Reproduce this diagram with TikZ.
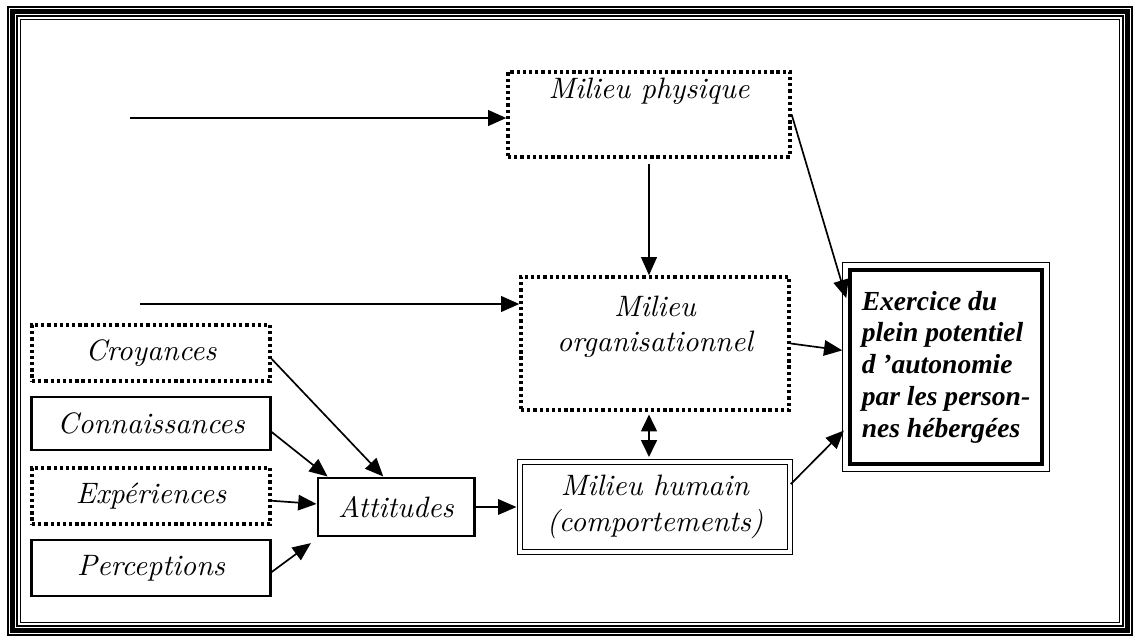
\documentclass[tikz,border=0pt]{standalone}
\usepackage{fontspec}
\usepackage{tikz}
\usetikzlibrary{positioning,arrows.meta,calc}
\newfontfamily\grasit{Liberation Serif}

\tikzset{
  texte/.style={font=\fontsize{10.5}{12.5}\selectfont\itshape, align=center, inner sep=0pt},
  pointille/.style={draw, line width=1.15pt, dash pattern=on 1.15pt off 1.05pt, inner sep=0pt},
  trait/.style={draw, line width=1.05pt, texte},
  fleche/.style={-{Triangle[length=6.5pt,width=5.5pt]}, line width=0.6pt},
}

\begin{document}
\begin{tikzpicture}[x=0.0125cm,y=-0.0125cm]
    \useasboundingbox (0,0) rectangle (1136,638);
    % cadre
    \draw[line width=0.5pt] (8,7) rectangle (1132,635);
    \draw[line width=1.6pt] (12.5,11.5) rectangle (1127.5,630.5);
    \draw[line width=0.5pt] (17,16) rectangle (1123,626);
    \draw[line width=0.5pt] (20.5,19.5) rectangle (1119.5,622.5);

    % facteurs
    \node[pointille, texte, minimum width=2.975cm, minimum height=0.7cm] (croy) at (151,353) {Croyances};
    \node[trait, minimum width=2.975cm, minimum height=0.6625cm] (conn) at (151,423.5) {Connaissances};
    \node[pointille, texte, minimum width=2.975cm, minimum height=0.7cm] (expe) at (151,496) {Expériences};
    \node[trait, minimum width=2.975cm, minimum height=0.7cm] (perc) at (151,568) {Perceptions};
    \node[trait, minimum width=1.95cm, minimum height=0.725cm] (att) at (396,507) {Attitudes};

    % milieux
    \node[pointille, minimum width=3.525cm, minimum height=1.0625cm] (phys) at (649,114.5) {};
    \node[texte, below=2.5pt of phys.north] (physt) {Milieu physique};
    \node[pointille, minimum width=3.35cm, minimum height=1.6625cm] (org) at (655,343.5) {};
    \node[texte, below=7pt of org.north] (orgt) {Milieu\\organisationnel};
    \node[texte, draw, double, line width=0.5pt, double distance=1.4pt,
          minimum width=3.375cm, minimum height=1.125cm] (hum) at (655,507) {Milieu humain\\(comportements)};

    % finalite
    \node[draw, line width=1.5pt, align=left, inner sep=0pt,
          font=\grasit\fontsize{9.8}{11.3}\selectfont\bfseries\itshape,
          minimum width=2.4cm, minimum height=2.425cm] (exer) at (946,367)
          {Exercice du\\plein potentiel\\d ’autonomie\\par les person-\\nes hébergées};
    \draw[line width=0.5pt] ([shift={(-1.9pt,1.9pt)}]exer.north west) rectangle ([shift={(1.9pt,-1.9pt)}]exer.south east);

    % fleches
    \coordinate (d1) at (130,118);
    \coordinate (d2) at (140,304);
    \draw[fleche, line width=1pt] (d1) -- (d1 -| phys.west);
    \draw[fleche, line width=1pt] (d2) -- (d2 -| org.west);
    \draw[fleche, line width=1pt, shorten <=2pt] (phys.south) -- (phys.south |- org.north);
    \draw[{Triangle[length=6pt,width=5.5pt]}-{Triangle[length=6pt,width=5.5pt]}, line width=1pt, shorten <=1pt, shorten >=1.5pt]
      (phys.south |- org.south) -- (phys.south |- hum.north);
    \draw[fleche, shorten >=2pt] (phys.east) -- ($(exer.north west)!0.18!(exer.south west)$);
    \draw[fleche, shorten >=2pt] (org.east) -- ($(exer.north west)!0.42!(exer.south west)$);
    \draw[fleche, shorten >=2pt] ($(hum.north east)!0.25!(hum.south east)$) -- ($(exer.north west)!0.8!(exer.south west)$);

    \draw[fleche] ($(croy.north east)!0.6!(croy.south east)$) -- ($(att.north west)!0.42!(att.north east)$);
    \draw[fleche] ($(conn.north east)!0.65!(conn.south east)$) -- ($(att.north west)!0.07!(att.north east)$);
    \draw[fleche] ($(expe.north east)!0.58!(expe.south east)$) -- ($(att.north west)!0.45!(att.south west)$);
    \draw[fleche] ($(perc.north east)!0.57!(perc.south east)$) -- ([xshift=-2pt,yshift=-2pt]att.south west);
    \draw[fleche, shorten >=1pt] (att.east) -- (hum.west);
\end{tikzpicture}
\end{document}
